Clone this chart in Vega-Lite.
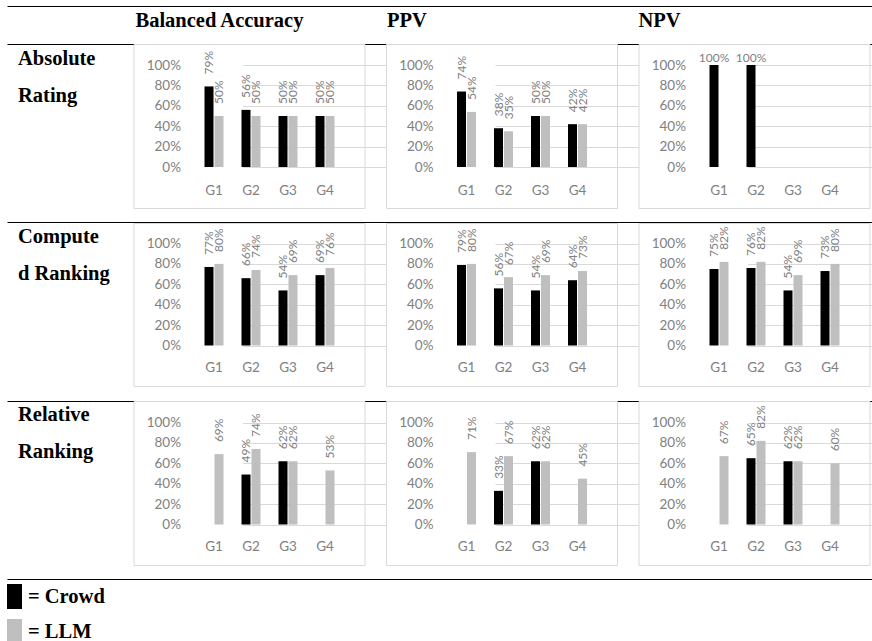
{
  "$schema": "https://vega.github.io/schema/vega-lite/v6.json",
  "padding": {"left": 7, "top": 6, "right": 0, "bottom": 0},
  "autosize": {"type": "pad"},
  "background": "#ffffff",
  "datasets": {
    "scores": [
      {"metric": "Balanced Accuracy", "test": "Absolute Rating", "group": "G1", "series": "Crowd", "value": 0.79},
      {"metric": "Balanced Accuracy", "test": "Absolute Rating", "group": "G2", "series": "Crowd", "value": 0.56},
      {"metric": "Balanced Accuracy", "test": "Absolute Rating", "group": "G3", "series": "Crowd", "value": 0.50},
      {"metric": "Balanced Accuracy", "test": "Absolute Rating", "group": "G4", "series": "Crowd", "value": 0.50},
      {"metric": "Balanced Accuracy", "test": "Absolute Rating", "group": "G1", "series": "LLM", "value": 0.50},
      {"metric": "Balanced Accuracy", "test": "Absolute Rating", "group": "G2", "series": "LLM", "value": 0.50},
      {"metric": "Balanced Accuracy", "test": "Absolute Rating", "group": "G3", "series": "LLM", "value": 0.50},
      {"metric": "Balanced Accuracy", "test": "Absolute Rating", "group": "G4", "series": "LLM", "value": 0.50},
      {"metric": "Balanced Accuracy", "test": "Computed Ranking", "group": "G1", "series": "Crowd", "value": 0.77},
      {"metric": "Balanced Accuracy", "test": "Computed Ranking", "group": "G2", "series": "Crowd", "value": 0.66},
      {"metric": "Balanced Accuracy", "test": "Computed Ranking", "group": "G3", "series": "Crowd", "value": 0.54},
      {"metric": "Balanced Accuracy", "test": "Computed Ranking", "group": "G4", "series": "Crowd", "value": 0.69},
      {"metric": "Balanced Accuracy", "test": "Computed Ranking", "group": "G1", "series": "LLM", "value": 0.80},
      {"metric": "Balanced Accuracy", "test": "Computed Ranking", "group": "G2", "series": "LLM", "value": 0.74},
      {"metric": "Balanced Accuracy", "test": "Computed Ranking", "group": "G3", "series": "LLM", "value": 0.69},
      {"metric": "Balanced Accuracy", "test": "Computed Ranking", "group": "G4", "series": "LLM", "value": 0.76},
      {"metric": "Balanced Accuracy", "test": "Relative Ranking", "group": "G2", "series": "Crowd", "value": 0.49},
      {"metric": "Balanced Accuracy", "test": "Relative Ranking", "group": "G3", "series": "Crowd", "value": 0.62},
      {"metric": "Balanced Accuracy", "test": "Relative Ranking", "group": "G1", "series": "LLM", "value": 0.69},
      {"metric": "Balanced Accuracy", "test": "Relative Ranking", "group": "G2", "series": "LLM", "value": 0.74},
      {"metric": "Balanced Accuracy", "test": "Relative Ranking", "group": "G3", "series": "LLM", "value": 0.62},
      {"metric": "Balanced Accuracy", "test": "Relative Ranking", "group": "G4", "series": "LLM", "value": 0.53},
      {"metric": "PPV", "test": "Absolute Rating", "group": "G1", "series": "Crowd", "value": 0.74},
      {"metric": "PPV", "test": "Absolute Rating", "group": "G2", "series": "Crowd", "value": 0.38},
      {"metric": "PPV", "test": "Absolute Rating", "group": "G3", "series": "Crowd", "value": 0.50},
      {"metric": "PPV", "test": "Absolute Rating", "group": "G4", "series": "Crowd", "value": 0.42},
      {"metric": "PPV", "test": "Absolute Rating", "group": "G1", "series": "LLM", "value": 0.54},
      {"metric": "PPV", "test": "Absolute Rating", "group": "G2", "series": "LLM", "value": 0.35},
      {"metric": "PPV", "test": "Absolute Rating", "group": "G3", "series": "LLM", "value": 0.50},
      {"metric": "PPV", "test": "Absolute Rating", "group": "G4", "series": "LLM", "value": 0.42},
      {"metric": "PPV", "test": "Computed Ranking", "group": "G1", "series": "Crowd", "value": 0.79},
      {"metric": "PPV", "test": "Computed Ranking", "group": "G2", "series": "Crowd", "value": 0.56},
      {"metric": "PPV", "test": "Computed Ranking", "group": "G3", "series": "Crowd", "value": 0.54},
      {"metric": "PPV", "test": "Computed Ranking", "group": "G4", "series": "Crowd", "value": 0.64},
      {"metric": "PPV", "test": "Computed Ranking", "group": "G1", "series": "LLM", "value": 0.80},
      {"metric": "PPV", "test": "Computed Ranking", "group": "G2", "series": "LLM", "value": 0.67},
      {"metric": "PPV", "test": "Computed Ranking", "group": "G3", "series": "LLM", "value": 0.69},
      {"metric": "PPV", "test": "Computed Ranking", "group": "G4", "series": "LLM", "value": 0.73},
      {"metric": "PPV", "test": "Relative Ranking", "group": "G2", "series": "Crowd", "value": 0.33},
      {"metric": "PPV", "test": "Relative Ranking", "group": "G3", "series": "Crowd", "value": 0.62},
      {"metric": "PPV", "test": "Relative Ranking", "group": "G1", "series": "LLM", "value": 0.71},
      {"metric": "PPV", "test": "Relative Ranking", "group": "G2", "series": "LLM", "value": 0.67},
      {"metric": "PPV", "test": "Relative Ranking", "group": "G3", "series": "LLM", "value": 0.62},
      {"metric": "PPV", "test": "Relative Ranking", "group": "G4", "series": "LLM", "value": 0.45},
      {"metric": "NPV", "test": "Absolute Rating", "group": "G1", "series": "Crowd", "value": 1.00},
      {"metric": "NPV", "test": "Absolute Rating", "group": "G2", "series": "Crowd", "value": 1.00},
      {"metric": "NPV", "test": "Computed Ranking", "group": "G1", "series": "Crowd", "value": 0.75},
      {"metric": "NPV", "test": "Computed Ranking", "group": "G2", "series": "Crowd", "value": 0.76},
      {"metric": "NPV", "test": "Computed Ranking", "group": "G3", "series": "Crowd", "value": 0.54},
      {"metric": "NPV", "test": "Computed Ranking", "group": "G4", "series": "Crowd", "value": 0.73},
      {"metric": "NPV", "test": "Computed Ranking", "group": "G1", "series": "LLM", "value": 0.82},
      {"metric": "NPV", "test": "Computed Ranking", "group": "G2", "series": "LLM", "value": 0.82},
      {"metric": "NPV", "test": "Computed Ranking", "group": "G3", "series": "LLM", "value": 0.69},
      {"metric": "NPV", "test": "Computed Ranking", "group": "G4", "series": "LLM", "value": 0.80},
      {"metric": "NPV", "test": "Relative Ranking", "group": "G2", "series": "Crowd", "value": 0.65},
      {"metric": "NPV", "test": "Relative Ranking", "group": "G3", "series": "Crowd", "value": 0.62},
      {"metric": "NPV", "test": "Relative Ranking", "group": "G1", "series": "LLM", "value": 0.67},
      {"metric": "NPV", "test": "Relative Ranking", "group": "G2", "series": "LLM", "value": 0.82},
      {"metric": "NPV", "test": "Relative Ranking", "group": "G3", "series": "LLM", "value": 0.62},
      {"metric": "NPV", "test": "Relative Ranking", "group": "G4", "series": "LLM", "value": 0.60}
    ]
  },
  "config": {
    "view": {"stroke": "#d9d9d9", "strokeWidth": 1, "fill": "#ffffff"},
    "axis": {"labelFont": "Lato", "labelFontSize": 13.5, "labelColor": "#808080", "domain": false, "ticks": false, "tickSize": 0, "labelPadding": 0, "gridColor": "#d9d9d9", "gridWidth": 1, "gridOpacity": 1},
    "axisX": {"offset": -26, "labelAngle": 0, "grid": false},
    "axisY": {"offset": -47, "grid": true},
    "text": {"font": "Lato", "fontSize": 12, "color": "#808080"},
    "title": {"font": "Liberation Serif", "fontWeight": "bold", "fontSize": 20.5, "color": "#000000", "anchor": "start", "frame": "group", "baseline": "alphabetic", "offset": 13},
    "legend": {"orient": "none", "legendX": 0, "legendY": 540, "symbolType": "M-1,-1H0.2V1H-1Z", "symbolSize": 625, "symbolStrokeWidth": 0, "labelFont": "Liberation Serif", "labelFontWeight": "bold", "labelFontSize": 20.5, "labelColor": "#000000", "rowPadding": 10, "labelOffset": -4, "padding": 0}
  },
  "bounds": "flush",
  "spacing": 21.5,
  "hconcat": [
    {
      "width": 104.5,
      "height": 535,
      "view": {"stroke": null, "fill": null},
      "data": {"name": "scores"},
      "transform": [{"aggregate": [{"op": "count", "as": "n"}], "groupby": ["test"]}],
      "mark": {"type": "text", "align": "left", "baseline": "alphabetic", "dx": 11, "dy": 20.5, "font": "Liberation Serif", "fontWeight": "bold", "fontSize": 20.5, "lineHeight": 37, "lineBreak": " ", "color": "#000000"},
      "encoding": {
        "x": {"datum": 0, "type": "quantitative", "scale": {"domain": [0, 1], "range": [0, 865], "nice": false}, "axis": {"orient": "top", "offset": 38, "domain": true, "domainColor": "#000000", "domainWidth": 1, "ticks": false, "labels": false, "grid": false, "title": null}},
        "y": {"field": "test", "type": "nominal", "bandPosition": 0, "title": null, "scale": {"domain": ["Absolute Rating", "Computed Ranking", "Relative Ranking"], "range": [0, 535], "paddingInner": 0, "paddingOuter": 0}, "axis": {"orient": "left", "offset": 0, "grid": true, "gridColor": "#000000", "gridWidth": 1, "tickBand": "extent", "labels": false, "ticks": false, "domain": false, "title": null}},
        "text": {"condition": {"test": "datum.test === 'Computed Ranking'", "value": ["Compute", "d\u00a0Ranking"]}, "field": "test", "type": "nominal"}
      }
    },
    {
      "bounds": "flush",
      "spacing": {"row": 15, "column": 21.5},
      "columns": 3,
      "concat": [
        {
          "width": 231, "height": 164,
          "title": {"text": "Balanced Accuracy", "dx": 2},
          "data": {"name": "scores"},
          "transform": [{"filter": {"and": [{"field": "metric", "equal": "Balanced Accuracy"}, {"field": "test", "equal": "Absolute Rating"}]}}],
          "encoding": {
            "x": {"field": "group", "type": "nominal", "title": null, "scale": {"domain": ["G1", "G2", "G3", "G4"], "range": [62, 210], "paddingInner": 0, "paddingOuter": 0}, "axis": {"offset": -24.5}},
            "xOffset": {"field": "series", "type": "nominal", "scale": {"domain": ["Crowd", "LLM"], "paddingInner": 0.1, "paddingOuter": 0.9}},
            "y": {"field": "value", "type": "quantitative", "title": null, "scale": {"domain": [0, 1], "range": [123, 21], "nice": false}, "axis": {"values": [0, 0.2, 0.4, 0.6, 0.8, 1], "format": ".0%"}}
          },
          "layer": [
            {"mark": {"type": "bar"}, "encoding": {"color": {"field": "series", "type": "nominal", "scale": {"domain": ["Crowd", "LLM"], "range": ["#000000", "#bfbfbf"]}, "legend": {"title": null, "labelExpr": "'= ' + datum.label"}}}},
            {"mark": {"type": "text", "angle": 270, "align": "left", "baseline": "middle", "dx": 12}, "encoding": {"text": {"field": "value", "type": "quantitative", "format": ".0%"}}}
          ]
        },
        {
          "width": 231, "height": 164,
          "title": {"text": "PPV", "dx": 1},
          "data": {"name": "scores"},
          "transform": [{"filter": {"and": [{"field": "metric", "equal": "PPV"}, {"field": "test", "equal": "Absolute Rating"}]}}],
          "encoding": {
            "x": {"field": "group", "type": "nominal", "title": null, "scale": {"domain": ["G1", "G2", "G3", "G4"], "range": [62, 210], "paddingInner": 0, "paddingOuter": 0}, "axis": {"offset": -24.5}},
            "xOffset": {"field": "series", "type": "nominal", "scale": {"domain": ["Crowd", "LLM"], "paddingInner": 0.1, "paddingOuter": 0.9}},
            "y": {"field": "value", "type": "quantitative", "title": null, "scale": {"domain": [0, 1], "range": [123, 21], "nice": false}, "axis": {"values": [0, 0.2, 0.4, 0.6, 0.8, 1], "format": ".0%"}}
          },
          "layer": [
            {"mark": {"type": "bar"}, "encoding": {"color": {"field": "series", "type": "nominal", "scale": {"domain": ["Crowd", "LLM"], "range": ["#000000", "#bfbfbf"]}, "legend": {"title": null, "labelExpr": "'= ' + datum.label"}}}},
            {"mark": {"type": "text", "angle": 270, "align": "left", "baseline": "middle", "dx": 12}, "encoding": {"text": {"field": "value", "type": "quantitative", "format": ".0%"}}}
          ]
        },
        {
          "width": 231, "height": 164,
          "title": {"text": "NPV", "dx": 0},
          "data": {"name": "scores"},
          "transform": [{"filter": {"and": [{"field": "metric", "equal": "NPV"}, {"field": "test", "equal": "Absolute Rating"}]}}],
          "encoding": {
            "x": {"field": "group", "type": "nominal", "title": null, "scale": {"domain": ["G1", "G2", "G3", "G4"], "range": [62, 210], "paddingInner": 0, "paddingOuter": 0}, "axis": {"offset": -24.5}},
            "xOffset": {"field": "series", "type": "nominal", "scale": {"domain": ["Crowd", "LLM"], "paddingInner": 0.1, "paddingOuter": 0.9}},
            "y": {"field": "value", "type": "quantitative", "title": null, "scale": {"domain": [0, 1], "range": [123, 21], "nice": false}, "axis": {"values": [0, 0.2, 0.4, 0.6, 0.8, 1], "format": ".0%"}}
          },
          "layer": [
            {"mark": {"type": "bar"}, "encoding": {"color": {"field": "series", "type": "nominal", "scale": {"domain": ["Crowd", "LLM"], "range": ["#000000", "#bfbfbf"]}, "legend": {"title": null, "labelExpr": "'= ' + datum.label"}}}},
            {"mark": {"type": "text", "angle": 0, "align": "center", "baseline": "alphabetic", "dy": -3}, "encoding": {"text": {"field": "value", "type": "quantitative", "format": ".0%"}}}
          ]
        },
        {
          "width": 231, "height": 163,
          "data": {"name": "scores"},
          "transform": [{"filter": {"and": [{"field": "metric", "equal": "Balanced Accuracy"}, {"field": "test", "equal": "Computed Ranking"}]}}],
          "encoding": {
            "x": {"field": "group", "type": "nominal", "title": null, "scale": {"domain": ["G1", "G2", "G3", "G4"], "range": [62, 210], "paddingInner": 0, "paddingOuter": 0}},
            "xOffset": {"field": "series", "type": "nominal", "scale": {"domain": ["Crowd", "LLM"], "paddingInner": 0.1, "paddingOuter": 0.9}},
            "y": {"field": "value", "type": "quantitative", "title": null, "scale": {"domain": [0, 1], "range": [122.5, 20.5], "nice": false}, "axis": {"values": [0, 0.2, 0.4, 0.6, 0.8, 1], "format": ".0%"}}
          },
          "layer": [
            {"mark": {"type": "bar"}, "encoding": {"color": {"field": "series", "type": "nominal", "scale": {"domain": ["Crowd", "LLM"], "range": ["#000000", "#bfbfbf"]}, "legend": {"title": null, "labelExpr": "'= ' + datum.label"}}}},
            {"mark": {"type": "text", "angle": 270, "align": "left", "baseline": "middle", "dx": 12}, "encoding": {"text": {"field": "value", "type": "quantitative", "format": ".0%"}}}
          ]
        },
        {
          "width": 231, "height": 163,
          "data": {"name": "scores"},
          "transform": [{"filter": {"and": [{"field": "metric", "equal": "PPV"}, {"field": "test", "equal": "Computed Ranking"}]}}],
          "encoding": {
            "x": {"field": "group", "type": "nominal", "title": null, "scale": {"domain": ["G1", "G2", "G3", "G4"], "range": [62, 210], "paddingInner": 0, "paddingOuter": 0}},
            "xOffset": {"field": "series", "type": "nominal", "scale": {"domain": ["Crowd", "LLM"], "paddingInner": 0.1, "paddingOuter": 0.9}},
            "y": {"field": "value", "type": "quantitative", "title": null, "scale": {"domain": [0, 1], "range": [122.5, 20.5], "nice": false}, "axis": {"values": [0, 0.2, 0.4, 0.6, 0.8, 1], "format": ".0%"}}
          },
          "layer": [
            {"mark": {"type": "bar"}, "encoding": {"color": {"field": "series", "type": "nominal", "scale": {"domain": ["Crowd", "LLM"], "range": ["#000000", "#bfbfbf"]}, "legend": {"title": null, "labelExpr": "'= ' + datum.label"}}}},
            {"mark": {"type": "text", "angle": 270, "align": "left", "baseline": "middle", "dx": 12}, "encoding": {"text": {"field": "value", "type": "quantitative", "format": ".0%"}}}
          ]
        },
        {
          "width": 231, "height": 163,
          "data": {"name": "scores"},
          "transform": [{"filter": {"and": [{"field": "metric", "equal": "NPV"}, {"field": "test", "equal": "Computed Ranking"}]}}],
          "encoding": {
            "x": {"field": "group", "type": "nominal", "title": null, "scale": {"domain": ["G1", "G2", "G3", "G4"], "range": [62, 210], "paddingInner": 0, "paddingOuter": 0}},
            "xOffset": {"field": "series", "type": "nominal", "scale": {"domain": ["Crowd", "LLM"], "paddingInner": 0.1, "paddingOuter": 0.9}},
            "y": {"field": "value", "type": "quantitative", "title": null, "scale": {"domain": [0, 1], "range": [122.5, 20.5], "nice": false}, "axis": {"values": [0, 0.2, 0.4, 0.6, 0.8, 1], "format": ".0%"}}
          },
          "layer": [
            {"mark": {"type": "bar"}, "encoding": {"color": {"field": "series", "type": "nominal", "scale": {"domain": ["Crowd", "LLM"], "range": ["#000000", "#bfbfbf"]}, "legend": {"title": null, "labelExpr": "'= ' + datum.label"}}}},
            {"mark": {"type": "text", "angle": 270, "align": "left", "baseline": "middle", "dx": 12}, "encoding": {"text": {"field": "value", "type": "quantitative", "format": ".0%"}}}
          ]
        },
        {
          "width": 231, "height": 164,
          "data": {"name": "scores"},
          "transform": [{"filter": {"and": [{"field": "metric", "equal": "Balanced Accuracy"}, {"field": "test", "equal": "Relative Ranking"}]}}],
          "encoding": {
            "x": {"field": "group", "type": "nominal", "title": null, "scale": {"domain": ["G1", "G2", "G3", "G4"], "range": [62, 210], "paddingInner": 0, "paddingOuter": 0}},
            "xOffset": {"field": "series", "type": "nominal", "scale": {"domain": ["Crowd", "LLM"], "paddingInner": 0.1, "paddingOuter": 0.9}},
            "y": {"field": "value", "type": "quantitative", "title": null, "scale": {"domain": [0, 1], "range": [123.5, 21.5], "nice": false}, "axis": {"values": [0, 0.2, 0.4, 0.6, 0.8, 1], "format": ".0%"}}
          },
          "layer": [
            {"mark": {"type": "bar"}, "encoding": {"color": {"field": "series", "type": "nominal", "scale": {"domain": ["Crowd", "LLM"], "range": ["#000000", "#bfbfbf"]}, "legend": {"title": null, "labelExpr": "'= ' + datum.label"}}}},
            {"mark": {"type": "text", "angle": 270, "align": "left", "baseline": "middle", "dx": 12}, "encoding": {"text": {"field": "value", "type": "quantitative", "format": ".0%"}}}
          ]
        },
        {
          "width": 231, "height": 164,
          "data": {"name": "scores"},
          "transform": [{"filter": {"and": [{"field": "metric", "equal": "PPV"}, {"field": "test", "equal": "Relative Ranking"}]}}],
          "encoding": {
            "x": {"field": "group", "type": "nominal", "title": null, "scale": {"domain": ["G1", "G2", "G3", "G4"], "range": [62, 210], "paddingInner": 0, "paddingOuter": 0}},
            "xOffset": {"field": "series", "type": "nominal", "scale": {"domain": ["Crowd", "LLM"], "paddingInner": 0.1, "paddingOuter": 0.9}},
            "y": {"field": "value", "type": "quantitative", "title": null, "scale": {"domain": [0, 1], "range": [123.5, 21.5], "nice": false}, "axis": {"values": [0, 0.2, 0.4, 0.6, 0.8, 1], "format": ".0%"}}
          },
          "layer": [
            {"mark": {"type": "bar"}, "encoding": {"color": {"field": "series", "type": "nominal", "scale": {"domain": ["Crowd", "LLM"], "range": ["#000000", "#bfbfbf"]}, "legend": {"title": null, "labelExpr": "'= ' + datum.label"}}}},
            {"mark": {"type": "text", "angle": 270, "align": "left", "baseline": "middle", "dx": 12}, "encoding": {"text": {"field": "value", "type": "quantitative", "format": ".0%"}}}
          ]
        },
        {
          "width": 231, "height": 164,
          "data": {"name": "scores"},
          "transform": [{"filter": {"and": [{"field": "metric", "equal": "NPV"}, {"field": "test", "equal": "Relative Ranking"}]}}],
          "encoding": {
            "x": {"field": "group", "type": "nominal", "title": null, "scale": {"domain": ["G1", "G2", "G3", "G4"], "range": [62, 210], "paddingInner": 0, "paddingOuter": 0}},
            "xOffset": {"field": "series", "type": "nominal", "scale": {"domain": ["Crowd", "LLM"], "paddingInner": 0.1, "paddingOuter": 0.9}},
            "y": {"field": "value", "type": "quantitative", "title": null, "scale": {"domain": [0, 1], "range": [123.5, 21.5], "nice": false}, "axis": {"values": [0, 0.2, 0.4, 0.6, 0.8, 1], "format": ".0%"}}
          },
          "layer": [
            {"mark": {"type": "bar"}, "encoding": {"color": {"field": "series", "type": "nominal", "scale": {"domain": ["Crowd", "LLM"], "range": ["#000000", "#bfbfbf"]}, "legend": {"title": null, "labelExpr": "'= ' + datum.label"}}}},
            {"mark": {"type": "text", "angle": 270, "align": "left", "baseline": "middle", "dx": 12}, "encoding": {"text": {"field": "value", "type": "quantitative", "format": ".0%"}}}
          ]
        }
      ]
    }
  ]
}
